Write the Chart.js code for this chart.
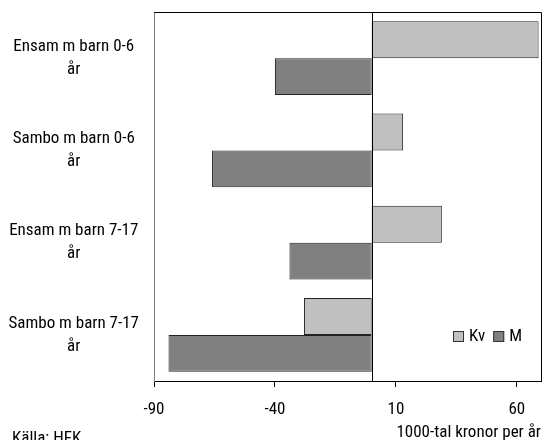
<!DOCTYPE html>
<html><head><meta charset="utf-8">
<script src="https://cdn.jsdelivr.net/npm/chart.js@4"></script>
<style>html,body{margin:0;padding:0;background:#fff}</style>
</head><body><canvas id="c" width="542" height="440"></canvas>
<script>
const categories = [["Ensam m barn 0-6","år"],["Sambo m barn 0-6","år"],["Ensam m barn 7-17","år"],["Sambo m barn 7-17","år"]];
const kvValues = [69, 13, 29, -28];
const mValues = [-40, -66, -34, -84];
const xTickValues = [-90, -40, 10, 60];
const seriesNames = ["Kv", "M"];
const axisTitle = "1000-tal kronor per år";
const sourceText = "Källa: HFK";

const FONT = "'Roboto Condensed','Liberation Sans Narrow',sans-serif";

const extras = {
  id: 'extras',
  afterDatasetsDraw(chart) {
    const {ctx, chartArea: a, scales: {x}} = chart;
    ctx.save();
    ctx.strokeStyle = '#000'; ctx.lineWidth = 1;
    ctx.beginPath();
    ctx.moveTo(a.left, a.top + 0.5); ctx.lineTo(a.right + 0.5, a.top + 0.5);
    ctx.lineTo(a.right + 0.5, a.bottom);
    const zx = Math.round(x.getPixelForValue(0)) + 0.5;
    ctx.moveTo(zx, a.top); ctx.lineTo(zx, a.bottom);
    ctx.stroke();
    // legend
    ctx.font = '17px ' + FONT;
    ctx.textBaseline = 'middle';
    let lx = a.right - 88, ly = a.bottom - 44;
    chart.data.datasets.forEach(ds => {
      ctx.fillStyle = ds.backgroundColor;
      ctx.fillRect(lx, ly - 6, 11, 11);
      ctx.strokeStyle = '#333';
      ctx.strokeRect(lx + 0.5, ly - 5.5, 10, 10);
      ctx.fillStyle = '#000';
      ctx.fillText(ds.label, lx + 16, ly);
      lx += 16 + ctx.measureText(ds.label).width + 8;
    });
    // source
    ctx.textBaseline = 'alphabetic';
    ctx.fillText(sourceText, 12, 443);
    ctx.restore();
  }
};

new Chart(document.getElementById('c'), {
  type: 'bar',
  data: {
    labels: categories,
    datasets: [
      {label: seriesNames[0], data: kvValues, backgroundColor: '#c0c0c0', borderColor: '#222', borderWidth: 1},
      {label: seriesNames[1], data: mValues, backgroundColor: '#808080', borderColor: '#222', borderWidth: 1}
    ]
  },
  options: {
    indexAxis: 'y',
    responsive: false,
    animation: false,
    devicePixelRatio: 1,
    layout: {padding: {top: 12, right: 1, bottom: 0, left: 0}},
    datasets: {bar: {categoryPercentage: 0.8, barPercentage: 1.0, borderSkipped: false}},
    plugins: {legend: {display: false}, tooltip: {enabled: false}},
    scales: {
      x: {
        type: 'linear', min: -90, max: 70,
        afterBuildTicks: s => { s.ticks = xTickValues.map(v => ({value: v})); },
        afterFit: s => { s.height = 59; s.paddingLeft = 0; s.paddingRight = 0; },
        grid: {drawOnChartArea: false, drawTicks: true, tickLength: 6, color: '#000'},
        border: {color: '#000', width: 1},
        ticks: {color: '#000', font: {family: FONT, size: 17}, padding: 13, maxRotation: 0},
        title: {display: true, text: axisTitle, align: 'end', color: '#000', font: {family: FONT, size: 17, lineHeight: 0.9}, padding: {top: 0, bottom: 0}}
      },
      y: {
        afterFit: s => { s.width = 154; s.paddingTop = 0; s.paddingBottom = 0; },
        grid: {display: false, drawTicks: false},
        border: {color: '#808080', width: 1},
        ticks: {color: '#000', font: {family: FONT, size: 17, lineHeight: 1.35}, padding: 15, crossAlign: 'center', autoSkip: false}
      }
    }
  },
  plugins: [extras]
});
</script></body></html>
